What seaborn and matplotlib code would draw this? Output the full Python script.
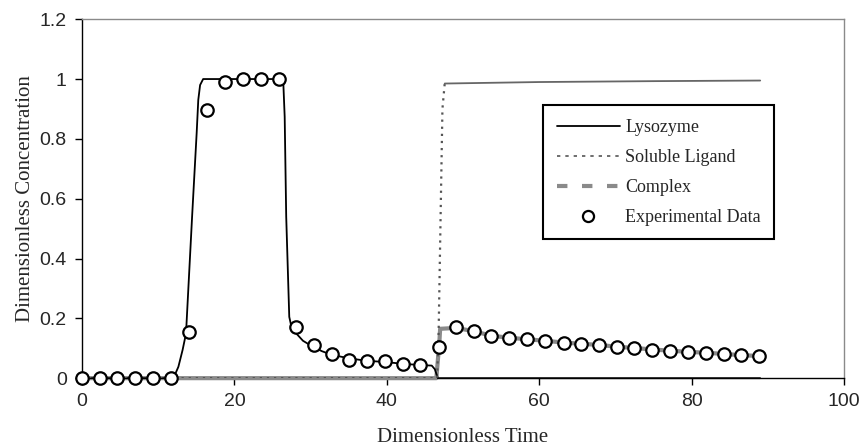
import matplotlib
matplotlib.use("Agg")
from matplotlib import pyplot as plt
from matplotlib.lines import Line2D
from matplotlib.ticker import FuncFormatter
import seaborn as sns
import numpy as np
import pandas as pd

exp_t = [0, 2.3, 4.65, 7.0, 9.35, 11.7, 14.05, 16.4, 18.75, 21.1, 23.45, 25.8,
         28.1, 30.5, 32.8, 35.1, 37.4, 39.8, 42.1, 44.4, 46.8, 49.1, 51.4, 53.7,
         56.1, 58.4, 60.8, 63.2, 65.5, 67.9, 70.2, 72.5, 74.8, 77.1, 79.5, 81.9,
         84.2, 86.5, 88.9]
exp_c = [0, 0, 0, 0, 0, 0, 0.155, 0.897, 0.99, 1.0, 1.0, 1.0,
         0.17, 0.11, 0.08, 0.062, 0.058, 0.056, 0.048, 0.043, 0.104, 0.172, 0.157, 0.14,
         0.135, 0.13, 0.125, 0.118, 0.115, 0.111, 0.104, 0.101, 0.095, 0.091, 0.088, 0.085,
         0.081, 0.076, 0.074]

# model curves
lys_t = [0, 12.0, 12.65, 13.2, 13.65, 14.45, 15.05, 15.26, 15.5, 15.9, 26.4, 26.6,
         26.8, 27.2, 27.5, 28.1, 29.0, 30.3, 31.5, 32.8, 35.1, 37.4, 39.8, 42.1,
         44.3, 45.9, 46.3, 46.7, 89.0]
lys_c = [0, 0, 0.038, 0.094, 0.149, 0.54, 0.82, 0.93, 0.98, 1.0, 1.0, 0.874,
         0.54, 0.205, 0.17, 0.15, 0.125, 0.105, 0.09, 0.078, 0.066, 0.058, 0.054, 0.048,
         0.044, 0.042, 0.03, 0.0, 0.0]

lig_t = [0, 46.6, 46.8, 47.1, 47.3, 47.6, 60, 75, 89]
lig_c = [0, 0, 0.15, 0.6, 0.9, 0.985, 0.99, 0.993, 0.995]

cpx_t = [0, 46.5, 46.9, 47.0, 49.1, 51.4, 53.7, 56.1, 58.4, 60.8, 63.2, 65.5,
         67.9, 70.2, 72.5, 74.8, 77.1, 79.5, 81.9, 84.2, 86.5, 88.9]
cpx_c = [0, 0, 0.12, 0.165, 0.168, 0.157, 0.142, 0.135, 0.13, 0.125, 0.119, 0.115,
         0.111, 0.105, 0.101, 0.096, 0.092, 0.088, 0.085, 0.081, 0.077, 0.074]

sns.set_style("white")
plt.rcParams['font.family'] = ['Liberation Sans', 'DejaVu Sans']

fig = plt.figure(figsize=(8.63, 4.47), dpi=100)
ax = fig.add_axes([0.095, 0.154, 0.883, 0.803])

grey = "#8a8a8a"
# complex drawn above the bottom spine so the zero segment shows thick grey
sns.lineplot(x=cpx_t, y=cpx_c, ax=ax, color=grey, lw=3.0, zorder=2.6,
             solid_capstyle="butt", estimator=None, sort=False, clip_on=False)
sns.lineplot(x=lys_t, y=lys_c, ax=ax, color="black", lw=1.3, zorder=3,
             estimator=None, sort=False, clip_on=False)

lig = pd.DataFrame({"t": lig_t, "c": lig_c})
rise = lig[lig.t <= 47.6]
plateau = lig[lig.t >= 47.6]
sns.lineplot(data=rise, x="t", y="c", ax=ax, color="#555555", lw=1.6,
             linestyle=(0, (1, 2.2)), zorder=3, estimator=None, sort=False)
sns.lineplot(data=plateau, x="t", y="c", ax=ax, color="#666666", lw=1.3,
             zorder=3, estimator=None, sort=False)

sns.scatterplot(x=exp_t, y=exp_c, ax=ax, marker="o", s=80, facecolor="white",
                edgecolor="black", linewidth=1.6, zorder=5, clip_on=False)

ax.set_xlim(0, 100)
ax.set_ylim(0, 1.2)
ax.set_xticks([0, 20, 40, 60, 80, 100])
ax.set_yticks([0, 0.2, 0.4, 0.6, 0.8, 1.0, 1.2])
ax.yaxis.set_major_formatter(FuncFormatter(lambda v, p: "%g" % v))
ax.tick_params(axis="both", direction="out", length=5, width=1, color="black",
               labelsize=14, bottom=True, left=True, pad=6)

for s in ["left", "bottom"]:
    ax.spines[s].set_color("black")
    ax.spines[s].set_linewidth(1.0)
for s in ["top", "right"]:
    ax.spines[s].set_color(grey)
    ax.spines[s].set_linewidth(1.0)

ax.set_xlabel("Dimensionless Time", family=["Liberation Serif"], fontsize=15, labelpad=13)
ax.set_ylabel("Dimensionless Concentration", family=["Liberation Serif"], fontsize=15, labelpad=3)

handles = [
    Line2D([], [], color="black", lw=1.3),
    Line2D([], [], color="#555555", lw=1.2, linestyle=(0, (2, 3))),
    Line2D([], [], color=grey, lw=3.0, linestyle=(0, (2.5, 3.5))),
    Line2D([], [], color="none", marker="o", markerfacecolor="white",
           markeredgecolor="black", markeredgewidth=1.6, markersize=8),
]
labels = ["Lysozyme", "Soluble Ligand", "Complex", "Experimental Data"]
leg = ax.legend(handles, labels, loc="upper left", bbox_to_anchor=(0.605, 0.76),
                borderaxespad=0, frameon=True, fancybox=False, framealpha=1,
                handlelength=3.5, handletextpad=0.3, labelspacing=0.72,
                borderpad=0.75, prop={"family": "Liberation Serif", "size": 13})
leg.get_frame().set_edgecolor("black")
leg.get_frame().set_linewidth(1.5)

fig.savefig("out.png", dpi=100)
